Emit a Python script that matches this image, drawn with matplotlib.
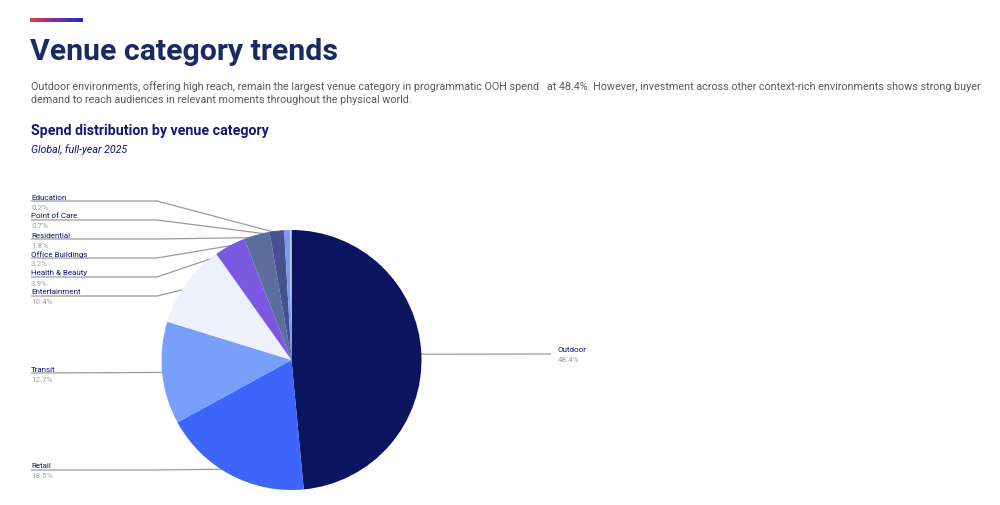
import numpy as np
import matplotlib
matplotlib.use("Agg")
import matplotlib.pyplot as plt
from matplotlib.colors import LinearSegmentedColormap

# data (clockwise from 12 o'clock)
categories = ["Outdoor", "Retail", "Transit", "Entertainment", "Health & Beauty",
              "Office Buildings", "Residential", "Point of Care", "Education"]
shares = [48.4, 18.5, 12.7, 10.4, 3.9, 3.2, 1.8, 0.7, 0.2]
value_labels = ["48.4%", "18.5%", "12.7%", "10.4%", "3.9%", "3.2%", "1.8%", "0.7%", "0.2%"]
colors = ["#0b155f", "#3d65fb", "#78a0fa", "#eef1fc", "#7a59e0",
          "#5b6e9c", "#46528e", "#7a98f5", "#c9d5fb"]

# label row (y of the name line, in pixels from top) and side for each category
label_y = [355, 471, 374, 297, 278, 259, 240, 221, 202]
label_side = ["right", "left", "left", "left", "left", "left", "left", "left", "left"]

NAVY = "#1b2a62"
DARK = "#0d1a70"
GREY_TXT = "#a0a0a0"
LINE = "#9b9b9b"

plt.rcParams["font.family"] = ["Roboto", "DejaVu Sans"]

W, H = 1000, 506
fig = plt.figure(figsize=(W / 100, H / 100), dpi=100)

# overlay in pixel coordinates (y downward)
ov = fig.add_axes([0, 0, 1, 1])
ov.set_xlim(0, W)
ov.set_ylim(H, 0)
ov.axis("off")

# gradient accent bar
grad = LinearSegmentedColormap.from_list("acc", ["#ec3a3a", "#7a2f9a", "#1e2bcf"])
ov.imshow(np.linspace(0, 1, 100)[None, :], cmap=grad, aspect="auto",
          extent=(30, 83, 23.2, 19.8), zorder=1, interpolation="bilinear")

ov.text(30, 52, "Venue category trends", fontsize=21.8, fontweight="bold",
        color=NAVY, va="center", ha="left")
ov.text(31, 87, "Outdoor environments, offering high reach, remain the largest venue category in "
        "programmatic OOH spend   at 48.4%. However, investment across other context-rich "
        "environments shows strong buyer", fontsize=7.75, color="#5a5a5a",
        va="center", ha="left")
ov.text(31, 100, "demand to reach audiences in relevant moments throughout the physical world.",
        fontsize=7.75, color="#5a5a5a", va="center", ha="left")
ov.text(31, 131, "Spend distribution by venue category", fontsize=10.2,
        fontweight="bold", color=DARK, va="center", ha="left")
ov.text(31, 150, "Global, full-year 2025", fontsize=7.7, style="italic",
        color=DARK, va="center", ha="left")

# pie axes: centre (291.5, 361), radius 130 px
cx, cy, R = 291.5, 361, 130
ax = fig.add_axes([(cx - R) / W, (H - cy - R) / H, 2 * R / W, 2 * R / H])
wedges, _ = ax.pie(shares, colors=colors, startangle=90, counterclock=False,
                   wedgeprops=dict(linewidth=0), normalize=True)
ax.set_xlim(-1, 1)
ax.set_ylim(-1, 1)
ax.set_aspect("auto")
ax.axis("off")

fig.canvas.draw()
to_px = ov.transData.inverted()
for w, name, val, ly, side in zip(wedges, categories, value_labels, label_y, label_side):
    mid = np.deg2rad((w.theta1 + w.theta2) / 2)
    px, py = to_px.transform(ax.transData.transform((0.95 * np.cos(mid), 0.95 * np.sin(mid))))
    if side == "right":
        xs, ys = [px, 551], [py, ly]
        tx = 558
    elif px - 157 > 30:
        xs, ys = [31, 157, px], [ly, ly, py]
        tx = 31
    else:
        xs, ys = [31, px], [ly, py]
        tx = 31
    ov.plot(xs, ys, color=LINE, lw=0.9, zorder=3, solid_capstyle="butt")
    ov.plot([px], [py], "o", ms=2.0, color="#a8a8a8", zorder=4)
    ov.text(tx, ly - 4.5, name, fontsize=5.8, color=DARK, va="center", ha="left")
    ov.text(tx, ly + 5.5, val, fontsize=5.8, color=GREY_TXT, va="center", ha="left")

fig.savefig("out.png", dpi=100)
